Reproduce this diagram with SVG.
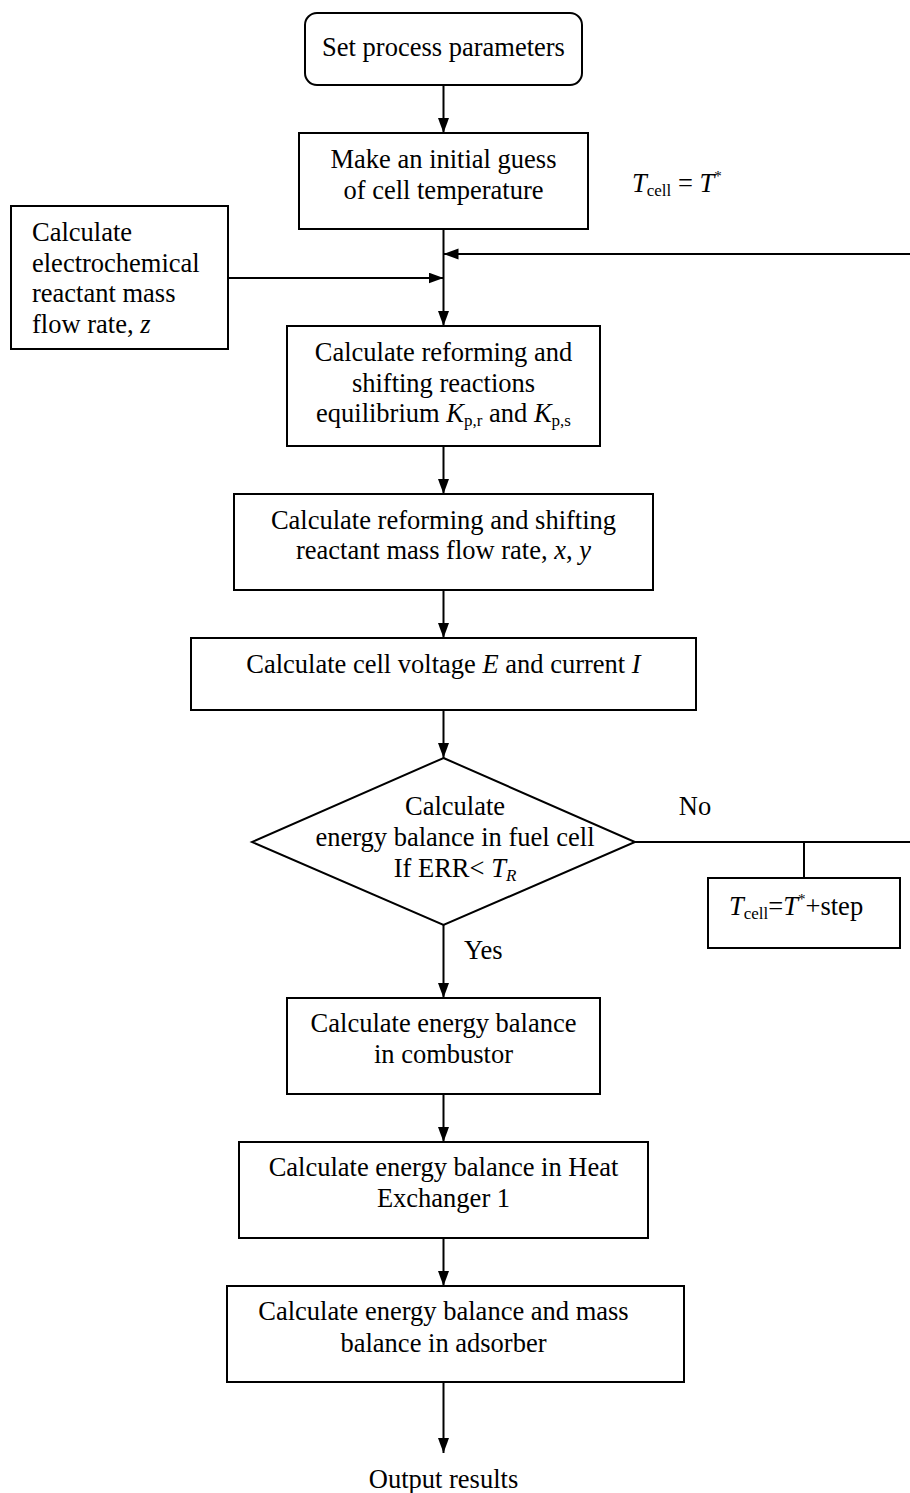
<svg xmlns="http://www.w3.org/2000/svg" width="910" height="1493" viewBox="0 0 910 1493">
  <style>
    .box { fill: #ffffff; stroke: #000000; stroke-width: 2; }
    .wire { fill: none; stroke: #000000; stroke-width: 2; }
    .t { font-family: "Liberation Serif", "Times New Roman", serif; font-size: 26.5px; fill: #000000; }
    .c { text-anchor: middle; }
    .i { font-style: italic; }
    .sub { font-size: 17px; }
    .sup { font-size: 15px; }
  </style>
  <defs>
    <marker id="arrow" markerUnits="userSpaceOnUse" markerWidth="16" markerHeight="12" refX="15" refY="5.5" orient="auto">
      <path d="M0,0 L15,5.5 L0,11 Z" fill="#000000"/>
    </marker>
  </defs>

  <rect width="910" height="1493" fill="#ffffff"/>

  <!-- connectors -->
  <g id="connectors">
    <line class="wire" x1="443.5" y1="85" x2="443.5" y2="133" marker-end="url(#arrow)"/>
    <line class="wire" x1="443.5" y1="229" x2="443.5" y2="326" marker-end="url(#arrow)"/>
    <line class="wire" x1="228" y1="278" x2="443.5" y2="278" marker-end="url(#arrow)"/>
    <polyline class="wire" points="635,842 916,842 916,254 443.5,254" marker-end="url(#arrow)"/>
    <line class="wire" x1="804" y1="842" x2="804" y2="878"/>
    <line class="wire" x1="443.5" y1="446" x2="443.5" y2="494" marker-end="url(#arrow)"/>
    <line class="wire" x1="443.5" y1="590" x2="443.5" y2="638" marker-end="url(#arrow)"/>
    <line class="wire" x1="443.5" y1="710" x2="443.5" y2="758" marker-end="url(#arrow)"/>
    <line class="wire" x1="443.5" y1="925" x2="443.5" y2="998" marker-end="url(#arrow)"/>
    <line class="wire" x1="443.5" y1="1094" x2="443.5" y2="1142" marker-end="url(#arrow)"/>
    <line class="wire" x1="443.5" y1="1238" x2="443.5" y2="1286" marker-end="url(#arrow)"/>
    <line class="wire" x1="443.5" y1="1382" x2="443.5" y2="1453" marker-end="url(#arrow)"/>
  </g>

  <!-- start -->
  <g id="start">
    <rect class="box" x="305" y="13" width="277" height="72" rx="12" ry="12"/>
    <text class="t c" x="443.5" y="56">Set process parameters</text>
  </g>

  <g id="initial-guess">
    <rect class="box" x="299" y="133" width="289" height="96"/>
    <text class="t c" x="443.5" y="168">Make an initial guess</text>
    <text class="t c" x="443.5" y="199">of cell temperature</text>
  </g>

  <g id="initial-value">
    <text class="t" x="632" y="192"><tspan class="i">T</tspan><tspan class="sub" dy="4">cell</tspan><tspan dy="-4"> = </tspan><tspan class="i">T</tspan><tspan class="sup" dy="-11">*</tspan></text>
  </g>

  <g id="electrochemical">
    <rect class="box" x="11" y="206" width="217" height="143"/>
    <text class="t" x="32" y="241">Calculate</text>
    <text class="t" x="32" y="272">electrochemical</text>
    <text class="t" x="32" y="302">reactant mass</text>
    <text class="t" x="32" y="333">flow rate, <tspan class="i">z</tspan></text>
  </g>

  <g id="equilibrium">
    <rect class="box" x="287" y="326" width="313" height="120"/>
    <text class="t c" x="443.5" y="361">Calculate reforming and</text>
    <text class="t c" x="443.5" y="392">shifting reactions</text>
    <text class="t c" x="443.5" y="422">equilibrium <tspan class="i">K</tspan><tspan class="sub" dy="4">p,r</tspan><tspan dy="-4"> and </tspan><tspan class="i">K</tspan><tspan class="sub" dy="4">p,s</tspan></text>
  </g>

  <g id="reforming-flow">
    <rect class="box" x="234" y="494" width="419" height="96"/>
    <text class="t c" x="443.5" y="529">Calculate reforming and shifting</text>
    <text class="t c" x="443.5" y="559">reactant mass flow rate, <tspan class="i">x</tspan>, <tspan class="i">y</tspan></text>
  </g>

  <g id="voltage">
    <rect class="box" x="191" y="638" width="505" height="72"/>
    <text class="t c" x="443.5" y="673">Calculate cell voltage <tspan class="i">E</tspan> and current <tspan class="i">I</tspan></text>
  </g>

  <g id="fuel-cell-check">
    <polygon class="box" points="443.5,758 635,842 443.5,925 252,842"/>
    <text class="t c" x="455" y="815">Calculate</text>
    <text class="t c" x="455" y="846">energy balance in fuel cell</text>
    <text class="t c" x="455" y="877">If ERR&lt; <tspan class="i">T</tspan><tspan class="sub i" dy="4">R</tspan></text>
  </g>

  <g id="labels">
    <text class="t c" x="695" y="815">No</text>
    <text class="t" x="464" y="959">Yes</text>
  </g>

  <g id="step">
    <rect class="box" x="708" y="878" width="192" height="70"/>
    <text class="t" x="729" y="915"><tspan class="i">T</tspan><tspan class="sub" dy="4">cell</tspan><tspan dy="-4">=</tspan><tspan class="i">T</tspan><tspan class="sup" dy="-11">*</tspan><tspan dy="11">+step</tspan></text>
  </g>

  <g id="combustor">
    <rect class="box" x="287" y="998" width="313" height="96"/>
    <text class="t c" x="443.5" y="1032">Calculate energy balance</text>
    <text class="t c" x="443.5" y="1063">in combustor</text>
  </g>

  <g id="heat-exchanger">
    <rect class="box" x="239" y="1142" width="409" height="96"/>
    <text class="t c" x="443.5" y="1176">Calculate energy balance in Heat</text>
    <text class="t c" x="443.5" y="1207">Exchanger 1</text>
  </g>

  <g id="adsorber">
    <rect class="box" x="227" y="1286" width="457" height="96"/>
    <text class="t c" x="443.5" y="1320">Calculate energy balance and mass</text>
    <text class="t c" x="443.5" y="1352">balance in adsorber</text>
  </g>

  <g id="output">
    <text class="t c" x="443.5" y="1488">Output results</text>
  </g>
</svg>
